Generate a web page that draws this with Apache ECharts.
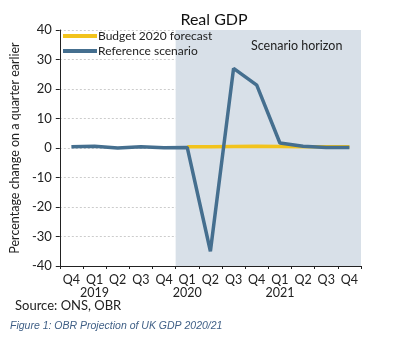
<!DOCTYPE html>
<html><head><meta charset="utf-8">
<script src="https://cdn.jsdelivr.net/npm/echarts@6/dist/echarts.min.js"></script>
<style>html,body{margin:0;padding:0;background:#fff}#c{width:401px;height:340px}</style>
</head><body><div id="c"></div>
<script>
var quarters = ['Q4','Q1','Q2','Q3','Q4','Q1','Q2','Q3','Q4','Q1','Q2','Q3','Q4'];
var years    = ['', '2019', '', '', '', '2020', '', '', '', '2021', '', '', ''];
var budget2020 = [null, null, null, null, null, 0.4, 0.4, 0.5, 0.6, 0.5, 0.4, 0.4, 0.4];
var referenceScenario = [0.4, 0.6, 0.0, 0.4, 0.1, 0.2, -35, 27, 21.3, 1.7, 0.6, 0.2, 0.2];
var yTicks = [-40, -30, -20, -10, 0, 10, 20, 30, 40];
var horizonStart = 5; // index of Q1 2020

var cats = quarters.map(function(q, i){ return q + '|' + years[i]; });
var F = '"Lato","Noto Sans",sans-serif';

var chart = echarts.init(document.getElementById('c'));
chart.setOption({
  animation: false,
  title: {text: 'Real GDP', left: 209, textAlign: 'center', top: 7,
    textStyle: {fontFamily: F, fontSize: 16, fontWeight: 'normal', color: '#111'}},
  legend: {orient: 'vertical', left: 63, top: 30, padding: 0, itemGap: 3, itemWidth: 34, itemHeight: 4,
    icon: 'rect', textStyle: {fontFamily: F, fontSize: 12, color: '#222', padding: [0,0,0,-4]},
    data: ['Budget 2020 forecast', 'Reference scenario']},
  grid: {left: 57, right: 40, top: 30, bottom: 74},
  xAxis: [
    {type: 'category', data: cats, position: 'bottom', boundaryGap: true,
      axisLine: {show: false}, axisTick: {show: false},
      axisLabel: {interval: 0, margin: 7, fontFamily: F, fontSize: 12.5, color: '#222', lineHeight: 13,
        formatter: function(v){ var p = v.split('|'); return p[0] + (p[1] ? '\n' + p[1] : ''); }}},
    {type: 'category', data: cats, position: 'bottom', boundaryGap: true,
      axisLine: {onZero: true, lineStyle: {color: '#222', width: 1}},
      axisTick: {show: true, interval: 0, length: 3, lineStyle: {color: '#222'}},
      axisLabel: {show: false}},
    {type: 'value', min: 0, max: quarters.length, show: false}
  ],
  yAxis: {type: 'value', min: yTicks[0], max: yTicks[yTicks.length-1], interval: 10,
    name: 'Percentage change on a quarter earlier', nameLocation: 'middle', nameGap: 29,
    nameTextStyle: {fontFamily: F, fontSize: 12.5, color: '#222'},
    axisLine: {show: true, lineStyle: {color: '#222'}},
    axisTick: {show: true, length: 4, lineStyle: {color: '#222'}},
    axisLabel: {fontFamily: F, fontSize: 13, color: '#222', margin: 8},
    splitLine: {show: true, lineStyle: {color: '#cccccc', type: [2, 2], width: 1}}},
  graphic: [
    {type: 'text', left: 251, top: 39, style: {text: 'Scenario horizon', font: '12.5px ' + F, fill: '#222'}, z: 10},
    {type: 'text', left: 15, top: 299, style: {text: 'Source: ONS, OBR', font: '13px ' + F, fill: '#222'}},
    {type: 'text', left: 10, top: 321, style: {text: 'Figure 1: OBR Projection of UK GDP 2020/21',
      font: 'italic 10.5px "Liberation Sans", sans-serif', fill: '#3f5f86'}}
  ],
  series: [
    {type: 'line', xAxisIndex: 2, data: [], silent: true,
      markArea: {silent: true, itemStyle: {color: '#d8e0e8'},
        data: [[{coord: [horizonStart, yTicks[0]]}, {coord: [quarters.length, yTicks[yTicks.length-1]]}]]}},
    {name: 'Budget 2020 forecast', type: 'line', xAxisIndex: 0, data: budget2020, showSymbol: false,
      lineStyle: {color: '#f2c31c', width: 3.5}, itemStyle: {color: '#f2c31c'}, z: 3},
    {name: 'Reference scenario', type: 'line', xAxisIndex: 0, data: referenceScenario, showSymbol: false,
      lineStyle: {color: '#456f8f', width: 3.5}, itemStyle: {color: '#456f8f'}, z: 4}
  ]
});
</script></body></html>
